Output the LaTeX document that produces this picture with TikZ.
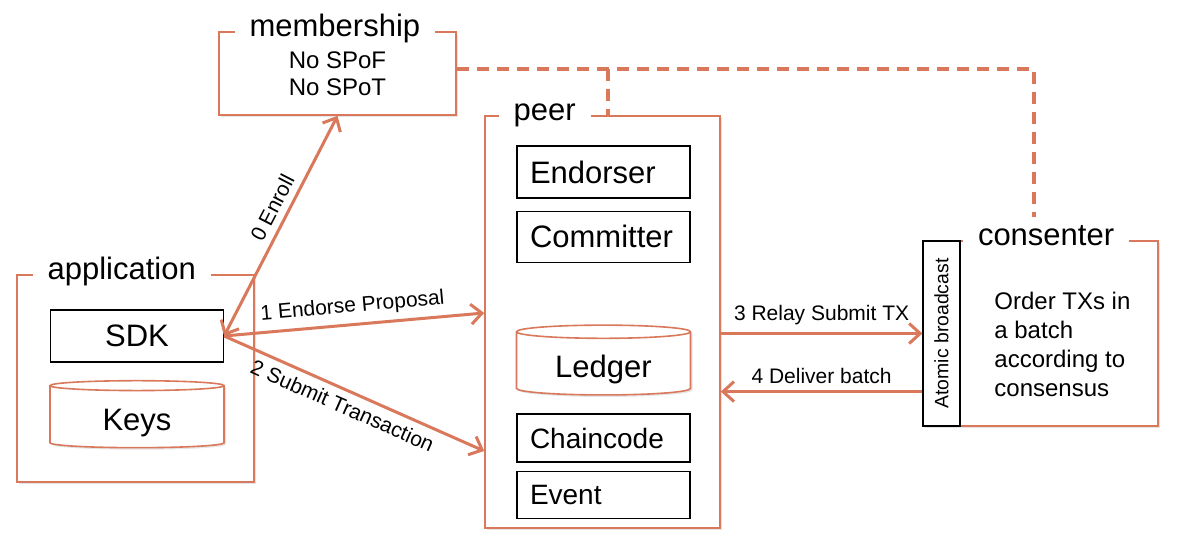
\documentclass[tikz,border=0pt]{standalone}
\usepackage{fontspec}
\setmainfont{Liberation Sans}
\usepackage{graphicx}
\usetikzlibrary{arrows.meta,positioning,shapes.geometric,shadows}
\definecolor{hlorange}{RGB}{218,120,92}

\begin{document}
\begin{tikzpicture}[x=0.5pt,y=-0.5pt]
\tikzstyle{grp}=[draw=hlorange, line width=0.8pt, fill=white, drop shadow={shadow xshift=1pt, shadow yshift=-1pt, opacity=0.2}]
\tikzstyle{ttl}=[anchor=mid west, fill=white, inner xsep=7.5pt, inner ysep=2pt, font=\fontsize{15.5}{18}\selectfont]
\tikzstyle{part}=[draw, line width=0.6pt, fill=white, text width=73.5pt, inner xsep=6.5pt, align=left, font=\fontsize{15.5}{18}\selectfont]
\tikzstyle{store}=[grp, cylinder, shape border rotate=90, aspect=0.12, minimum width=87pt, minimum height=33.5pt, text height=16pt, font=\fontsize{15.5}{18}\selectfont]
\tikzstyle{flow}=[draw=hlorange, line width=1.5pt, >={Straight Barb[length=5.5pt,width=10pt]}]
\tikzstyle{lbl}=[font=\fontsize{10.5}{12}\selectfont]
\tikzstyle{sync}=[draw=hlorange, line width=2pt, dash pattern=on 6pt off 4pt]

\path[use as bounding box, fill=white] (0,0) rectangle (1201,557);

% membership service
\node[grp, minimum width=118.5pt, minimum height=41.5pt, align=center, font=\fontsize{12}{13.5}\selectfont] (memb) at (337.5,73.5) {No SPoF\\No SPoT};
\node[ttl] (membttl) at ([xshift=8pt]memb.north west) {membership};

% application side
\node[grp, minimum width=118.5pt, minimum height=103.5pt] (app) at (135.5,378.5) {};
\node[ttl] (appttl) at ([xshift=8pt]app.north west) {application};
\node[part, align=center, minimum height=26pt] (sdk) at (137,336) {SDK};
\node[store] (keys) at (137,418) {Keys};

% peer
\node[grp, minimum width=117.5pt, minimum height=206pt] (peer) at (602.5,322) {};
\node[ttl] (peerttl) at ([xshift=7pt]peer.north west) {peer};
\node[part, minimum height=26pt] (endorser) at (603.5,172) {Endorser};
\node[part, minimum height=25.5pt, below=6pt of endorser] (committer) {Committer};
\node[store] (ledger) at (603.5,365) {Ledger};
\node[part, minimum height=24pt, font=\fontsize{14}{16}\selectfont] (chaincode) at (603.5,438) {Chaincode};
\node[part, minimum height=23.5pt, font=\fontsize{14}{16}\selectfont, below=4pt of chaincode] (event) {Event};

% consenter
\node[grp, minimum width=117.5pt, minimum height=92.5pt] (cons) at (1040.5,333.5) {};
\node[draw, line width=0.6pt, fill=white, minimum width=18.5pt, minimum height=92.5pt, inner sep=0pt, font=\fontsize{9.7}{11}\selectfont] (bcast) at (941.5,333.5) {\rotatebox{90}{Atomic broadcast}};
\node[ttl] (consttl) at ([xshift=1pt]bcast.north east) {consenter};
\node[anchor=west, align=left, inner sep=0pt, font=\fontsize{12}{14.5}\selectfont] (order) at (994,344) {Order TXs in\\a batch\\according to\\consensus};

% membership sync
\coordinate (tap) at (608,69);
\coordinate (corner) at (1034,69);
\draw[sync] (memb.east |- tap) -- (corner) -- ([yshift=2pt]corner |- consttl.north);
\draw[sync] (tap) -- (tap |- peer.north);

% flows
\draw[flow, <->] (sdk.east) -- node[lbl, sloped, above, pos=0.55] {0 Enroll} (memb.south);
\draw[flow, ->] (sdk.east) -- node[lbl, sloped, above] {1 Endorse Proposal} ([yshift=4.5pt]peer.west);
\draw[flow, ->] (sdk.east) -- node[lbl, sloped, below, pos=0.48] {2 Submit Transaction} ([yshift=-64.5pt]peer.west);
\draw[flow, ->] (bcast.west -| peer.east) -- node[lbl, above] {3 Relay Submit TX} (bcast.west);
\draw[flow, ->] ([yshift=17.5pt]bcast.south west) -- node[lbl, above] {4 Deliver batch} ([yshift=17.5pt]bcast.south west -| peer.east);
\end{tikzpicture}
\end{document}
